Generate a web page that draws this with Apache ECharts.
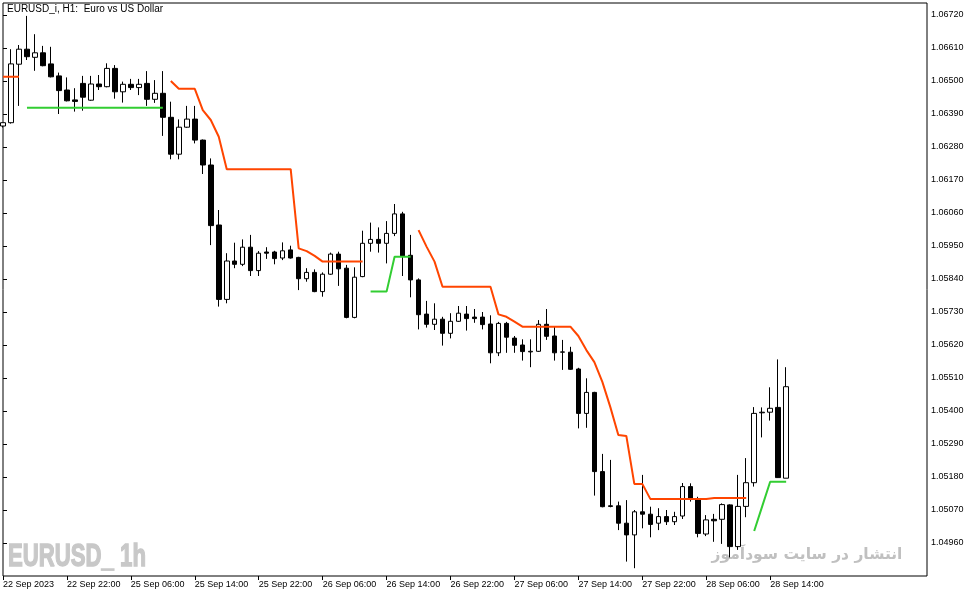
<!DOCTYPE html>
<html>
<head>
<meta charset="utf-8">
<script src="https://cdn.jsdelivr.net/npm/echarts@6/dist/echarts.min.js"></script>
<style>
  html, body { margin: 0; padding: 0; background: #fff; }
  #chart { width: 979px; height: 597px; }
</style>
</head>
<body>
<div id="chart"></div>
<script>
// EURUSD H1 bars, index 0 = 22 Sep 2023 14:00
var opens = [
  1.06350, 1.06361, 1.06556, 1.06606, 1.06579, 1.06594, 1.06557, 1.06517, 1.06470, 1.06437,
  1.06492, 1.06436, 1.06490, 1.06481, 1.06542, 1.06464, 1.06489, 1.06478, 1.06492, 1.06439,
  1.06459, 1.06379, 1.06256, 1.06346, 1.06373, 1.06303, 1.06220, 1.06020, 1.05772, 1.05900,
  1.05889, 1.05946, 1.05868, 1.05930, 1.05930, 1.05910, 1.05937, 1.05912, 1.05841, 1.05862,
  1.05798, 1.05856, 1.05923, 1.05876, 1.05712, 1.05848, 1.05959, 1.05972, 1.05959, 1.05992,
  1.06057, 1.05919, 1.05837, 1.05723, 1.05689, 1.05706, 1.05659, 1.05699, 1.05723, 1.05713,
  1.05713, 1.05690, 1.05594, 1.05692, 1.05643, 1.05620, 1.05597, 1.05599, 1.05689, 1.05650,
  1.05596, 1.05596, 1.05540, 1.05392, 1.05462, 1.05198, 1.05084, 1.05084, 1.05026, 1.04987,
  1.05064, 1.05056, 1.05026, 1.05048, 1.05031, 1.05050, 1.05148, 1.05106, 1.04990, 1.05039,
  1.05039, 1.05087, 1.04948, 1.05082, 1.05161, 1.05394, 1.05396, 1.05412, 1.05176
];
var closes = [
  1.06361, 1.06557, 1.06606, 1.06581, 1.06594, 1.06551, 1.06514, 1.06468, 1.06434, 1.06432,
  1.06446, 1.06490, 1.06481, 1.06542, 1.06464, 1.06489, 1.06478, 1.06489, 1.06439, 1.06459,
  1.06379, 1.06256, 1.06346, 1.06373, 1.06303, 1.06220, 1.06018, 1.05772, 1.05900, 1.05889,
  1.05946, 1.05868, 1.05926, 1.05926, 1.05908, 1.05934, 1.05910, 1.05841, 1.05862, 1.05798,
  1.05856, 1.05923, 1.05874, 1.05712, 1.05846, 1.05959, 1.05972, 1.05959, 1.05992, 1.06057,
  1.05917, 1.05837, 1.05721, 1.05689, 1.05706, 1.05659, 1.05699, 1.05726, 1.05708, 1.05708,
  1.05688, 1.05594, 1.05692, 1.05646, 1.05619, 1.05598, 1.05599, 1.05689, 1.05649, 1.05594,
  1.05597, 1.05539, 1.05392, 1.05462, 1.05198, 1.05081, 1.05082, 1.05026, 1.04987, 1.05064,
  1.05056, 1.05022, 1.05048, 1.05031, 1.05048, 1.05148, 1.05106, 1.04992, 1.05037, 1.05034,
  1.05088, 1.04948, 1.05082, 1.05161, 1.05392, 1.05396, 1.05409, 1.05178, 1.05481
];
var lows = [
  1.06345, 1.06358, 1.06417, 1.06570, 1.06534, 1.06549, 1.06512, 1.06390, 1.06432, 1.06398,
  1.06401, 1.06434, 1.06470, 1.06479, 1.06441, 1.06428, 1.06470, 1.06453, 1.06417, 1.06427,
  1.06317, 1.06239, 1.06239, 1.06344, 1.06292, 1.06190, 1.05953, 1.05748, 1.05759, 1.05876,
  1.05883, 1.05850, 1.05850, 1.05907, 1.05889, 1.05903, 1.05908, 1.05803, 1.05831, 1.05796,
  1.05781, 1.05854, 1.05817, 1.05709, 1.05709, 1.05846, 1.05931, 1.05928, 1.05892, 1.05983,
  1.05850, 1.05779, 1.05672, 1.05678, 1.05670, 1.05618, 1.05642, 1.05697, 1.05668, 1.05694,
  1.05672, 1.05559, 1.05583, 1.05594, 1.05594, 1.05568, 1.05546, 1.05597, 1.05637, 1.05568,
  1.05537, 1.05537, 1.05342, 1.05344, 1.05118, 1.05079, 1.05079, 1.05003, 1.04898, 1.04876,
  1.05009, 1.04979, 1.05003, 1.05020, 1.05020, 1.05040, 1.05098, 1.04979, 1.04983, 1.04964,
  1.04957, 1.04912, 1.04937, 1.05046, 1.05148, 1.05312, 1.05368, 1.05177, 1.05176
];
var highs = [
  1.06361, 1.06606, 1.06620, 1.06717, 1.06656, 1.06617, 1.06614, 1.06528, 1.06512, 1.06476,
  1.06517, 1.06517, 1.06520, 1.06559, 1.06553, 1.06498, 1.06507, 1.06507, 1.06533, 1.06503,
  1.06533, 1.06431, 1.06372, 1.06417, 1.06417, 1.06305, 1.06242, 1.06070, 1.05926, 1.05961,
  1.05972, 1.05987, 1.05933, 1.05946, 1.05934, 1.05962, 1.05951, 1.05914, 1.05876, 1.05872,
  1.05862, 1.05928, 1.05931, 1.05887, 1.05879, 1.06001, 1.06028, 1.06012, 1.06033, 1.06090,
  1.06064, 1.05987, 1.05842, 1.05767, 1.05759, 1.05714, 1.05726, 1.05750, 1.05750, 1.05740,
  1.05730, 1.05719, 1.05697, 1.05697, 1.05650, 1.05639, 1.05639, 1.05703, 1.05740, 1.05681,
  1.05637, 1.05614, 1.05544, 1.05509, 1.05464, 1.05257, 1.05237, 1.05098, 1.05103, 1.05070,
  1.05187, 1.05081, 1.05076, 1.05070, 1.05064, 1.05160, 1.05159, 1.05114, 1.05053, 1.05057,
  1.05092, 1.05089, 1.05187, 1.05243, 1.05413, 1.05412, 1.05479, 1.05572, 1.05546
];

// trailing stop indicator: orange = above price, green = below price (null = not drawn)
var stopDown = [
  1.06514, 1.06514, 1.06514, null, null, null, null, null, null, null,
  null, null, null, null, null, null, null, null, null, null,
  null, 1.06500, 1.06474, 1.06474, 1.06474, 1.06403, 1.06370, 1.06314, 1.06206, 1.06206,
  1.06206, 1.06206, 1.06206, 1.06206, 1.06206, 1.06206, 1.06206, 1.05942, 1.05933, 1.05917,
  1.05898, 1.05898, 1.05898, 1.05898, 1.05898, 1.05898, null, null, null, null,
  null, null, 1.06003, 1.05948, 1.05898, 1.05814, 1.05814, 1.05814, 1.05814, 1.05814,
  1.05814, 1.05814, 1.05722, 1.05714, 1.05698, 1.05681, 1.05681, 1.05681, 1.05681, 1.05681,
  1.05681, 1.05681, 1.05650, 1.05603, 1.05563, 1.05497, 1.05413, 1.05320, 1.05317, 1.05157,
  1.05157, 1.05107, 1.05107, 1.05107, 1.05107, 1.05107, 1.05107, 1.05107, 1.05107, 1.05110,
  1.05110, 1.05110, 1.05110, 1.05110, null, null, null, null, null
];
var stopUp = [
  null, null, null, 1.06411, 1.06411, 1.06411, 1.06411, 1.06411, 1.06411, 1.06411,
  1.06411, 1.06411, 1.06411, 1.06411, 1.06411, 1.06411, 1.06411, 1.06411, 1.06411, 1.06411,
  1.06411, null, null, null, null, null, null, null, null, null,
  null, null, null, null, null, null, null, null, null, null,
  null, null, null, null, null, null, 1.05798, 1.05798, 1.05798, 1.05914,
  1.05914, 1.05914, null, null, null, null, null, null, null, null,
  null, null, null, null, null, null, null, null, null, null,
  null, null, null, null, null, null, null, null, null, null,
  null, null, null, null, null, null, null, null, null, null,
  null, null, null, null, 1.05000, 1.05082, 1.05164, 1.05164, 1.05164
];

// axis labels
var timeTicks = [0, 8, 16, 24, 32, 40, 48, 56, 64, 72, 80, 88, 96];
var timeLabels = ['22 Sep 2023', '22 Sep 22:00', '25 Sep 06:00', '25 Sep 14:00', '25 Sep 22:00',
  '26 Sep 06:00', '26 Sep 14:00', '26 Sep 22:00', '27 Sep 06:00', '27 Sep 14:00',
  '27 Sep 22:00', '28 Sep 06:00', '28 Sep 14:00'];
var priceTicks = [1.0496, 1.0507, 1.0518, 1.0529, 1.0540, 1.0551, 1.0562, 1.0573, 1.0584,
  1.0595, 1.0606, 1.0617, 1.0628, 1.0639, 1.0650, 1.0661, 1.0672];

var labelFont = 'Liberation Sans';

var candles = opens.map(function (o, i) {
  return [i, o, closes[i], lows[i], highs[i]];
});
function toLine(arr) {
  return arr.map(function (v, i) { return [i, v == null ? '-' : v]; });
}

var chart = echarts.init(document.getElementById('chart'));

var option = {
  animation: false,
  backgroundColor: '#fff',
  title: {
    text: 'EURUSD_i, H1:  Euro vs US Dollar',
    left: 7,
    top: 4,
    padding: 0,
    textStyle: { fontFamily: labelFont, fontSize: 10, fontWeight: 'normal', color: '#000' }
  },
  grid: {
    left: 2,
    top: 3,
    right: 52,
    bottom: 21,
    show: true,
    borderColor: '#000',
    borderWidth: 1,
    backgroundColor: 'transparent'
  },
  xAxis: {
    type: 'value',
    min: 0,
    max: 115.625,
    axisLine: { show: false },
    splitLine: { show: false },
    axisTick: {
      show: true,
      length: 4,
      customValues: timeTicks,
      lineStyle: { color: '#000' }
    },
    axisLabel: {
      customValues: timeTicks,
      align: 'left',
      margin: 4,
      fontFamily: labelFont,
      fontSize: 9,
      color: '#000',
      formatter: function (v) {
        var idx = timeTicks.indexOf(Math.round(v));
        return idx >= 0 ? timeLabels[idx] : '';
      }
    }
  },
  yAxis: {
    type: 'value',
    position: 'right',
    min: 1.0485,
    max: 1.0676,
    scale: true,
    axisLine: { show: false },
    splitLine: { show: false },
    axisTick: {
      show: true,
      length: 4,
      customValues: priceTicks,
      lineStyle: { color: '#000' }
    },
    axisLabel: {
      customValues: priceTicks,
      margin: 4,
      fontFamily: labelFont,
      fontSize: 9,
      color: '#000',
      formatter: function (v) { return v.toFixed(5); }
    }
  },
  graphic: [
    {
      type: 'text',
      x: 8,
      y: 557,
      scaleX: 0.715,
      silent: true,
      style: {
        text: 'EURUSD_ 1h',
        fill: '#c8c8c8',
        stroke: '#c8c8c8',
        lineWidth: 1.4,
        font: 'bold 31px "Liberation Sans"',
        textVerticalAlign: 'middle'
      }
    },
    {
      type: 'text',
      x: 807,
      y: 555,
      silent: true,
      style: {
        text: 'انتشار در سایت سودآموز',
        fill: '#c0c0c0',
        font: 'bold 15.5px "DejaVu Sans"',
        textAlign: 'center',
        textVerticalAlign: 'middle'
      }
    }
  ],
  series: [
    {
      type: 'candlestick',
      data: candles,
      barWidth: 5,
      itemStyle: {
        color: '#fff',
        color0: '#000',
        borderColor: '#000',
        borderColor0: '#000',
        borderWidth: 1
      }
    },
    {
      type: 'line',
      data: toLine(stopDown),
      symbol: 'none',
      connectNulls: false,
      lineStyle: { color: '#ff4500', width: 2 },
      z: 3
    },
    {
      type: 'line',
      data: toLine(stopUp),
      symbol: 'none',
      connectNulls: false,
      lineStyle: { color: '#32cd32', width: 2 },
      z: 3
    }
  ]
};
chart.setOption(option);
</script>
</body>
</html>
